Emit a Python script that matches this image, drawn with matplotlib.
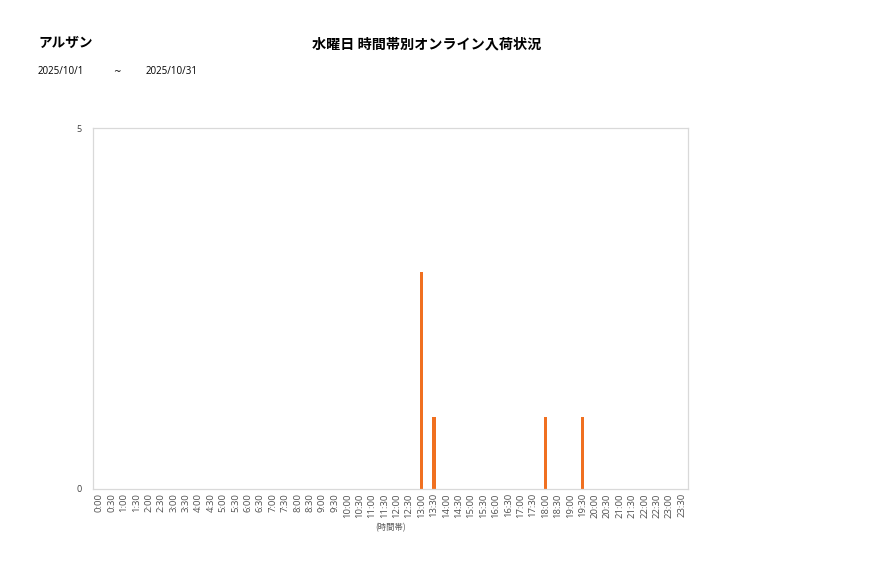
import matplotlib
matplotlib.use("Agg")
import matplotlib.pyplot as plt

plt.rcParams['font.family'] = ['Noto Sans CJK JP', 'DejaVu Sans']
latin = ['Open Sans', 'Noto Sans CJK JP']

# 30-minute slots
slots = ["%d:%02d" % (h, m) for h in range(24) for m in (0, 30)]
counts = [0] * 48
arrivals = {"13:00": 3, "13:30": 1, "18:00": 1, "19:30": 1}
for k, v in arrivals.items():
    counts[slots.index(k)] = v

store = "アルザン"
title = "水曜日 時間帯別オンライン入荷状況"
date_from = "2025/10/1"
date_to = "2025/10/31"
ymax = 5

W, H = 877, 578
fig = plt.figure(figsize=(W / 100, H / 100), dpi=100)
ax = fig.add_axes([93 / W, (H - 489) / H, 595 / W, 361 / H])

ax.bar(range(len(slots)), counts, width=0.3, color="#F07020")
ax.set_xlim(-0.5, len(slots) - 0.5)
ax.set_ylim(0, ymax)
ax.set_yticks([0, ymax])
ax.set_yticklabels(["0", str(ymax)], fontsize=6.5, color="#404040", family=latin)
ax.set_xticks(range(len(slots)))
ax.set_xticklabels(slots, rotation=90, fontsize=6.8, color="#505050", family=latin)
ax.tick_params(length=0, pad=3)
ax.tick_params(axis='y', pad=8)
for s in ax.spines.values():
    s.set_color("#D9D9D9")
    s.set_linewidth(0.9)
ax.set_xlabel("(時間帯)", fontsize=6, color="#595959", labelpad=4)

fig.text(427 / W, 1 - 44 / H, title, ha="center", va="center",
         fontsize=10.2, fontweight="bold")
fig.text(38 / W, 1 - 43 / H, store, ha="left", va="center",
         fontsize=9.8, fontweight="bold")
fig.text(38 / W, 1 - 71 / H, date_from, ha="left", va="center",
         fontsize=7, family=latin)
fig.text(113 / W, 1 - 72 / H, "~", ha="left", va="center",
         fontsize=6.5, family=['DejaVu Sans'])
fig.text(146 / W, 1 - 71 / H, date_to, ha="left", va="center",
         fontsize=7, family=latin)

fig.savefig("out.png", dpi=100)
